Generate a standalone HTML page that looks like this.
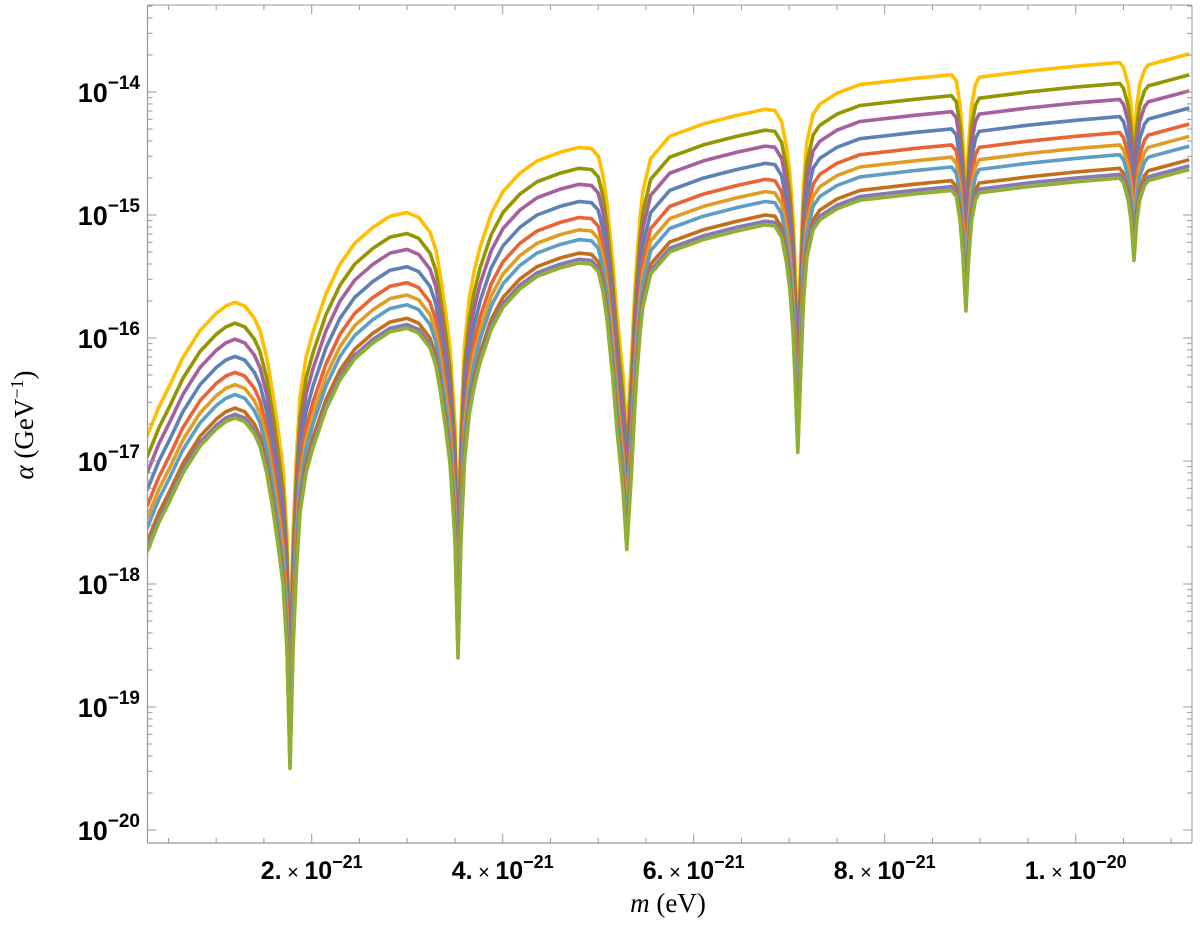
<!DOCTYPE html>
<html><head><meta charset="utf-8"><style>
body{margin:0;background:#fff}
svg text{font-family:"Liberation Sans",sans-serif}
</style></head><body>
<svg id="chart" width="1200" height="936" viewBox="0 0 1200 936" xmlns="http://www.w3.org/2000/svg">
<rect x="0" y="0" width="1200" height="936" fill="#fff"/>
<g id="curves"></g>
<g id="axes"></g>
<text x="668" y="912" font-size="27" text-anchor="middle" style="font-family:'Liberation Serif',serif"><tspan font-style="italic">m</tspan> (eV)</text>
<text transform="translate(33,425) rotate(-90)" font-size="27" text-anchor="middle" style="font-family:'Liberation Serif',serif"><tspan font-style="italic">α</tspan> (GeV<tspan dy="-10" font-size="18">−1</tspan><tspan dy="10">)</tspan></text>
</svg>
<script>
// base curve (lowest series): mass in units of 1e-21 eV, log10(alpha / GeV^-1)
const baseMass = [0.275,0.40,0.516,0.65,0.830,1.00,1.10,1.197,1.30,1.40,1.459,1.53,1.595,1.65,1.699,1.741,1.773,
 1.804,1.84,1.877,1.94,2.014,2.15,2.296,2.45,2.642,2.82,2.998,3.12,3.239,3.30,3.344,3.40,3.448,3.501,3.532,
 3.563,3.60,3.65,3.70,3.763,3.88,4.003,4.18,4.359,4.60,4.80,4.93,5.00,5.05,5.092,5.15,5.197,5.26,5.30,
 5.351,5.38,5.404,5.44,5.467,5.55,5.749,6.1,6.451,6.75,6.85,6.92,6.97,7.006,7.04,7.058,7.09,
 7.121,7.15,7.184,7.25,7.320,7.5,7.74,8.3,8.70,8.75,8.79,8.82,8.85,
 8.88,8.91,8.95,8.99,9.5,10.0,10.46,10.50,10.55,10.58,10.61,
 10.64,10.67,10.72,10.76,11.0,11.19];
const baseLogAlpha = [-17.74,-17.50,-17.32,-17.10,-16.88,-16.74,-16.68,-16.65,-16.68,-16.78,-16.88,-17.10,-17.40,-17.70,-18.00,-18.54,-19.50,
 -18.54,-17.90,-17.42,-17.10,-16.89,-16.58,-16.34,-16.17,-16.04,-15.95,-15.92,-15.96,-16.08,-16.22,-16.42,-16.72,-17.02,-17.64,-18.60,
 -17.64,-17.00,-16.62,-16.40,-16.20,-15.93,-15.75,-15.60,-15.50,-15.43,-15.39,-15.40,-15.46,-15.62,-15.85,-16.30,-16.75,-17.24,-17.72,
 -17.07,-16.60,-16.30,-15.95,-15.75,-15.48,-15.30,-15.20,-15.13,-15.08,-15.09,-15.18,-15.38,-15.60,-15.95,-16.26,-16.93,
 -16.26,-15.70,-15.35,-15.12,-15.04,-14.95,-14.88,-14.83,-14.80,-14.85,-15.05,-15.35,-15.78,
 -15.35,-15.05,-14.88,-14.82,-14.77,-14.73,-14.70,-14.74,-14.88,-15.05,-15.37,
 -15.05,-14.88,-14.76,-14.72,-14.67,-14.63];
// per-series offsets in decades above the base curve
const seriesNames = ["s1","s2","s3","s4","s5","s6","s7","s8","s9","s10"];
const seriesOffsets = [0.94,0.77,0.64,0.50,0.37,0.27,0.19,0.08,0.03,0];
const seriesColors = ["#FFBF00","#929600","#A5609D","#5E81B5","#EB6235","#E19C24","#5D9EC7","#C56E1A","#8778B3","#8FB032"];
const xTickValues = [2,4,6,8,10];
const xTickLabels = [["2.","21"],["4.","21"],["6.","21"],["8.","21"],["1.","20"]];
const yTickExps = [-14,-15,-16,-17,-18,-19,-20];

const X0=147.5, X1=1192, Y0=5, Y1=843;
const xs = m => 311.7 + (m-2)*95.5;
const ys = l => 92 - (l+14)*123;
const NS="http://www.w3.org/2000/svg";
function mk(tag, attrs, parent){const e=document.createElementNS(NS,tag);for(const k in attrs)e.setAttribute(k,attrs[k]);parent.appendChild(e);return e;}

const cg=document.getElementById('curves');
const clip=mk('clipPath',{id:'pc'},document.getElementById('chart'));
mk('rect',{x:X0,y:Y0,width:X1-X0,height:Y1-Y0},clip);
cg.setAttribute('clip-path','url(#pc)');
seriesOffsets.forEach((off,i)=>{
  let d='';
  baseMass.forEach((m,j)=>{d+=(j?'L':'M')+xs(m).toFixed(1)+','+ys(baseLogAlpha[j]+off).toFixed(1);});
  const p=mk('path',{d:d,fill:'none',stroke:seriesColors[i],'stroke-width':3.6,'stroke-linejoin':'round'},cg);
  
  
});

const ax=document.getElementById('axes');
const ac='#999';
mk('line',{x1:X0,y1:Y0,x2:X0,y2:Y1,stroke:ac,'stroke-width':1.2},ax);
mk('line',{x1:X0,y1:Y1,x2:X1,y2:Y1,stroke:ac,'stroke-width':1.2},ax);
mk('line',{x1:X1,y1:Y0,x2:X1,y2:Y1,stroke:ac,'stroke-width':1},ax);
mk('line',{x1:X0,y1:Y0,x2:X1,y2:Y0,stroke:ac,'stroke-width':1},ax);
for(let m=0.5;m<=11.01;m+=0.5){
  const x=xs(m); if(x<X0||x>X1)continue;
  const major=Math.abs(m/2-Math.round(m/2))<1e-6;
  mk('line',{x1:x,y1:Y1,x2:x,y2:Y1-(major?9:5),stroke:ac,'stroke-width':1},ax);
  mk('line',{x1:x,y1:Y0,x2:x,y2:Y0+(major?9:5),stroke:ac,'stroke-width':1},ax);
}
xTickValues.forEach((v,i)=>{
  const t=mk('text',{x:xs(v),y:879,'font-size':25,'font-weight':'bold','text-anchor':'middle'},ax);
  
  
  t.innerHTML=xTickLabels[i][0]+'<tspan font-weight="normal" font-size="20"> × </tspan>10<tspan dy="-11" font-size="18">−'+xTickLabels[i][1]+'</tspan>';
});
for(let e=-13;e>=-20;e--){
  for(let k=1;k<=9;k++){
    const yy=ys(e+Math.log10(k));
    if(yy<Y0||yy>Y1)continue;
    const L=k===1?9:5;
    mk('line',{x1:X0,y1:yy,x2:X0+L,y2:yy,stroke:ac,'stroke-width':1},ax);
    mk('line',{x1:X1,y1:yy,x2:X1-L,y2:yy,stroke:ac,'stroke-width':1},ax);
  }
}
yTickExps.forEach(e=>{
  const t=mk('text',{x:140,y:ys(e)+10,'font-size':27,'font-weight':'bold','text-anchor':'end'},ax);
  
  
  t.innerHTML='10<tspan dy="-13" font-size="19">−'+(-e)+'</tspan>';
});
</script>
</body></html>
